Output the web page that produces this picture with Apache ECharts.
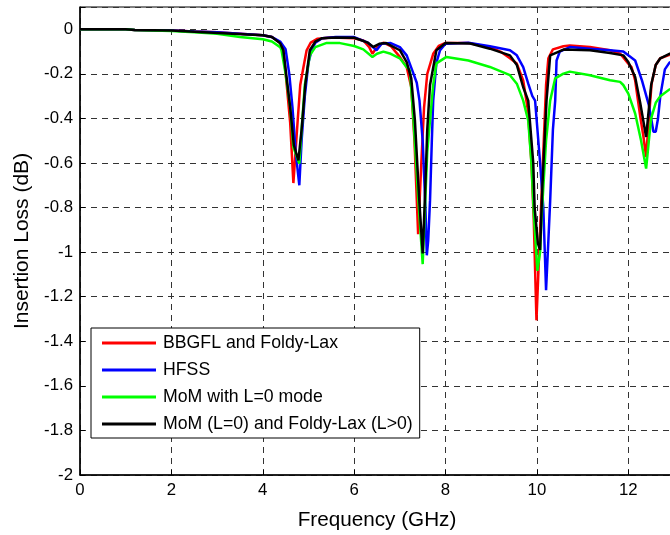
<!DOCTYPE html>
<html>
<head>
<meta charset="utf-8">
<script src="https://cdn.jsdelivr.net/npm/echarts@6/dist/echarts.min.js"></script>
<style>html,body{margin:0;padding:0;background:#fff}#c{width:670px;height:535px}</style>
</head>
<body>
<div id="c"></div>
<script>
const seriesNames = ['BBGFL and Foldy-Lax', 'HFSS', 'MoM with L=0 mode', 'MoM (L=0) and Foldy-Lax (L>0)'];
const xTicks = [0, 2, 4, 6, 8, 10, 12];
const xMax = 13;
const yTicks = [0, -0.2, -0.4, -0.6, -0.8, -1, -1.2, -1.4, -1.6, -1.8, -2];
const yMax = 0.1;

const freqRed = [0,1.0,1.2,2.0,2.5,3.0,3.5,4.0,4.2,4.38,4.45,4.52,4.6,4.67,4.75,4.82,4.89,4.96,5.05,5.2,5.5,6.0,6.2,6.33,6.4,6.5,6.64,6.8,7.0,7.15,7.25,7.32,7.40,7.47,7.53,7.6,7.73,7.85,8.0,8.5,8.97,9.2,9.41,9.56,9.7,9.8,9.88,9.93,9.99,10.05,10.1,10.15,10.2,10.25,10.35,10.58,10.72,11.16,11.6,11.82,12.0,12.07,12.15,12.26,12.33,12.39,12.45,12.51,12.6,12.7,12.9,13.2];
const lossRed = [0,0,-0.003,-0.006,-0.01,-0.013,-0.02,-0.027,-0.035,-0.06,-0.09,-0.24,-0.42,-0.69,-0.45,-0.25,-0.17,-0.094,-0.06,-0.042,-0.037,-0.04,-0.05,-0.08,-0.11,-0.08,-0.06,-0.075,-0.124,-0.17,-0.26,-0.5,-0.92,-0.6,-0.35,-0.2,-0.11,-0.075,-0.061,-0.062,-0.08,-0.1,-0.13,-0.154,-0.23,-0.36,-0.6,-0.85,-1.306,-1.0,-0.75,-0.5,-0.25,-0.13,-0.09,-0.076,-0.073,-0.079,-0.094,-0.109,-0.154,-0.17,-0.23,-0.39,-0.48,-0.573,-0.4,-0.244,-0.16,-0.13,-0.115,-0.11];

const freqBlue = [0,1.0,1.2,2.0,2.5,3.0,3.5,4.0,4.2,4.38,4.5,4.58,4.65,4.72,4.8,4.85,4.92,5.0,5.07,5.15,5.3,5.6,6.0,6.3,6.49,6.6,6.8,7.0,7.15,7.3,7.37,7.43,7.5,7.56,7.59,7.62,7.66,7.7,7.73,7.8,7.88,8.0,8.5,8.97,9.41,9.56,9.7,9.81,9.9,9.96,10.07,10.14,10.2,10.25,10.29,10.35,10.4,10.43,10.5,10.72,11.16,11.6,11.89,12.0,12.15,12.3,12.45,12.55,12.6,12.65,12.7,12.8,12.9,13.2];
const lossBlue = [0,0,-0.003,-0.006,-0.01,-0.013,-0.02,-0.027,-0.035,-0.055,-0.09,-0.2,-0.35,-0.55,-0.70,-0.5,-0.3,-0.15,-0.094,-0.06,-0.04,-0.035,-0.035,-0.06,-0.094,-0.065,-0.062,-0.08,-0.117,-0.2,-0.24,-0.32,-0.5,-0.8,-1.014,-0.95,-0.77,-0.5,-0.32,-0.15,-0.094,-0.065,-0.06,-0.076,-0.094,-0.117,-0.17,-0.244,-0.3,-0.32,-0.6,-0.8,-1.171,-0.95,-0.77,-0.45,-0.32,-0.14,-0.1,-0.08,-0.087,-0.094,-0.1,-0.117,-0.14,-0.23,-0.34,-0.46,-0.46,-0.4,-0.3,-0.18,-0.15,-0.12];

const freqGreen = [0,1.0,1.2,2.0,2.5,3.0,3.5,4.0,4.2,4.38,4.41,4.5,4.6,4.67,4.8,4.85,4.92,5.03,5.15,5.4,5.69,6.0,6.2,6.4,6.5,6.64,6.8,7.0,7.15,7.22,7.3,7.4,7.5,7.55,7.6,7.66,7.73,7.8,8.02,8.5,8.97,9.41,9.56,9.7,9.81,9.88,9.93,10.01,10.07,10.1,10.2,10.29,10.4,10.58,10.72,11.16,11.6,11.82,11.89,12.0,12.15,12.28,12.39,12.45,12.5,12.6,12.7,12.9,13.2];
const lossGreen = [0,0,-0.003,-0.008,-0.013,-0.02,-0.035,-0.045,-0.055,-0.08,-0.094,-0.2,-0.35,-0.53,-0.603,-0.45,-0.25,-0.117,-0.08,-0.061,-0.062,-0.075,-0.09,-0.124,-0.11,-0.10,-0.11,-0.13,-0.17,-0.184,-0.41,-0.75,-1.054,-0.8,-0.55,-0.41,-0.25,-0.153,-0.124,-0.14,-0.169,-0.206,-0.244,-0.32,-0.41,-0.6,-0.82,-1.084,-1.0,-0.85,-0.5,-0.32,-0.22,-0.199,-0.19,-0.206,-0.229,-0.236,-0.25,-0.289,-0.378,-0.5,-0.625,-0.5,-0.4,-0.33,-0.30,-0.27,-0.26];

const freqBlack = [0,1.0,1.2,2.0,2.6,3.35,4.0,4.2,4.38,4.45,4.52,4.6,4.68,4.78,4.85,4.93,5.03,5.15,5.3,5.6,6.0,6.3,6.42,6.55,6.7,7.0,7.15,7.25,7.33,7.42,7.5,7.55,7.6,7.66,7.8,8.0,8.54,8.97,9.41,9.56,9.7,9.81,9.92,9.95,10.02,10.07,10.12,10.21,10.29,10.58,11.16,11.6,11.89,12.0,12.15,12.26,12.39,12.5,12.6,12.7,12.9,13.2];
const lossBlack = [0,0,-0.003,-0.006,-0.012,-0.02,-0.027,-0.035,-0.063,-0.094,-0.214,-0.35,-0.52,-0.588,-0.45,-0.25,-0.094,-0.055,-0.04,-0.037,-0.038,-0.06,-0.079,-0.065,-0.062,-0.094,-0.147,-0.22,-0.41,-0.75,-1.006,-0.75,-0.45,-0.25,-0.094,-0.062,-0.064,-0.087,-0.117,-0.16,-0.26,-0.32,-0.6,-0.8,-0.96,-0.99,-0.7,-0.32,-0.117,-0.091,-0.094,-0.106,-0.117,-0.147,-0.214,-0.33,-0.483,-0.25,-0.16,-0.13,-0.11,-0.1];

const colors = ['#ff0000', '#0000ff', '#00ff00', '#000000'];
const freqs = [freqRed, freqBlue, freqGreen, freqBlack];
const losses = [lossRed, lossBlue, lossGreen, lossBlack];

const FONT = 'Liberation Sans, Arial, sans-serif';
const chart = echarts.init(document.getElementById('c'), null, {renderer: 'canvas'});
chart.setOption({
  animation: false,
  backgroundColor: '#ffffff',
  grid: {left: 80, top: 7, bottom: 60, right: -4, outerBoundsMode: 'none', containLabel: false,
         show: true, borderColor: '#000', borderWidth: 1, backgroundColor: '#fff'},
  legend: {
    orient: 'vertical', left: 91, top: 328,
    data: seriesNames,
    icon: 'rect', itemWidth: 54, itemHeight: 3, itemGap: 7,
    padding: [5, 7, 4, 11],
    borderColor: '#000', borderWidth: 1, backgroundColor: '#fff',
    textStyle: {fontFamily: FONT, fontSize: 17.7, color: '#000', lineHeight: 20, padding: [0, 0, 0, 2]}
  },
  xAxis: {
    type: 'value', min: xTicks[0], max: xMax, interval: 2,
    name: 'Frequency (GHz)', nameLocation: 'middle', nameGap: 35,
    nameTextStyle: {fontFamily: FONT, fontSize: 20.7, color: '#000'},
    axisLine: {show: true, onZero: false, lineStyle: {color: '#000', width: 1.5}},
    axisTick: {show: true, inside: true, length: 5, lineStyle: {color: '#000'}},
    axisLabel: {fontFamily: FONT, fontSize: 16.8, color: '#000', margin: 7,
      formatter: v => (xTicks.indexOf(v) >= 0 ? String(v) : '')},
    splitLine: {show: true, lineStyle: {color: '#333', type: [6, 5], width: 1}}
  },
  yAxis: {
    type: 'value', min: yTicks[yTicks.length - 1], max: yMax, interval: 0.2,
    name: 'Insertion Loss (dB)', nameLocation: 'middle', nameGap: 46,
    nameTextStyle: {fontFamily: FONT, fontSize: 21, color: '#000'},
    axisLine: {show: true, onZero: false, lineStyle: {color: '#000', width: 1.5}},
    axisTick: {show: true, inside: true, length: 5, lineStyle: {color: '#000'}},
    axisLabel: {fontFamily: FONT, fontSize: 16.8, color: '#000', margin: 7,
      formatter: v => (v > 0.05 ? '' : (Math.abs(v) < 1e-9 ? '0' : String(+v.toFixed(1))))},
    splitLine: {show: true, lineStyle: {color: '#333', type: [6, 5], width: 1}}
  },
  series: seriesNames.map((n, i) => ({
    name: n, type: 'line', showSymbol: false, symbol: 'none',
    color: colors[i],
    lineStyle: {color: colors[i], width: 2.5},
    data: freqs[i].map((f, k) => [f, losses[i][k]]),
    z: 2 + i
  }))
});
</script>
</body>
</html>
